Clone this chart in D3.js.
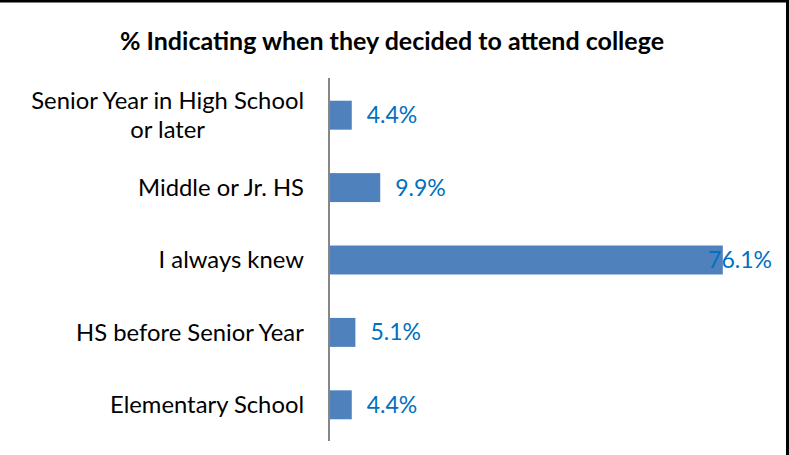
<!DOCTYPE html>
<html>
<head>
<meta charset="utf-8">
<script src="https://cdn.jsdelivr.net/npm/d3@7"></script>
<style>
  html, body { margin: 0; padding: 0; background: #fff; }
  svg { display: block; font-family: Lato, "Open Sans", sans-serif; }
</style>
</head>
<body>
<div id="chart"></div>
<script>
// categories top to bottom, as drawn
const categories = [
  ['Senior Year in High School', 'or later'],
  ['Middle or Jr. HS'],
  ['I always knew'],
  ['HS before Senior Year'],
  ['Elementary School']
]
const percents = [4.4, 9.9, 76.1, 5.1, 4.4]
const titleText = '% Indicating when they decided to attend college'

const width = 789
const height = 455
const axisX = 329
const labelRight = 772

const svg = d3.select('#chart')
  .append('svg')
  .attr('width', width)
  .attr('height', height)

// frame: only the top and right edges are inside the crop
svg.append('path')
  .attr('d', 'M0,1 H787.5 V' + height)
  .attr('fill', 'none')
  .attr('stroke', '#000')
  .attr('stroke-width', 3)

svg.append('text')
  .attr('x', 392)
  .attr('y', 50)
  .attr('text-anchor', 'middle')
  .attr('font-weight', 'bold')
  .attr('font-size', 25)
  .attr('fill', '#000')
  .text(titleText)

const keys = categories.map((d, i) => i)

const y = d3.scaleBand()
  .domain(keys)
  .range([79, 441])
  .paddingInner(0.6)
  .paddingOuter(0.3)

const x = d3.scaleLinear()
  .domain([0, 80])
  .range([axisX, 743])

const data = keys.map(i => ({ key: i, lines: categories[i], value: percents[i] }))

svg.append('g')
  .selectAll('rect')
  .data(data)
  .join('rect')
  .attr('x', x(0))
  .attr('y', d => y(d.key))
  .attr('width', d => x(d.value) - x(0))
  .attr('height', y.bandwidth())
  .attr('fill', '#4f81bd')

// category axis line
svg.append('line')
  .attr('x1', axisX).attr('x2', axisX)
  .attr('y1', 78).attr('y2', 441)
  .attr('stroke', '#868686')
  .attr('stroke-width', 2)

// category labels, multi-line ones centred within their block
const catG = svg.append('g')
  .attr('font-size', 23.8)
  .attr('fill', '#000')

data.forEach(d => {
  const cy = y(d.key) + y.bandwidth() / 2
  const lineH = 29
  const t = catG.append('text')
    .attr('text-anchor', 'middle')
  d.lines.forEach((ln, j) => {
    t.append('tspan')
      .attr('x', 0)
      .attr('y', cy + (j - (d.lines.length - 1) / 2) * lineH)
      .attr('dy', '0.35em')
      .text(ln)
  })
  const w = t.node().getBBox().width
  t.selectAll('tspan').attr('x', 304 - w / 2)
})

// value labels
svg.append('g')
  .selectAll('text')
  .data(data)
  .join('text')
  .attr('font-size', 23)
  .attr('fill', '#0070c0')
  .attr('y', d => y(d.key) + y.bandwidth() / 2)
  .attr('dy', '0.35em')
  .text(d => d3.format('.1f')(d.value) + '%')
  .each(function(d) {
    const w = this.getComputedTextLength()
    let lx = x(d.value) + 15
    if (lx + w > labelRight) lx = labelRight - w
    d3.select(this).attr('x', lx)
  })
</script>
</body>
</html>
